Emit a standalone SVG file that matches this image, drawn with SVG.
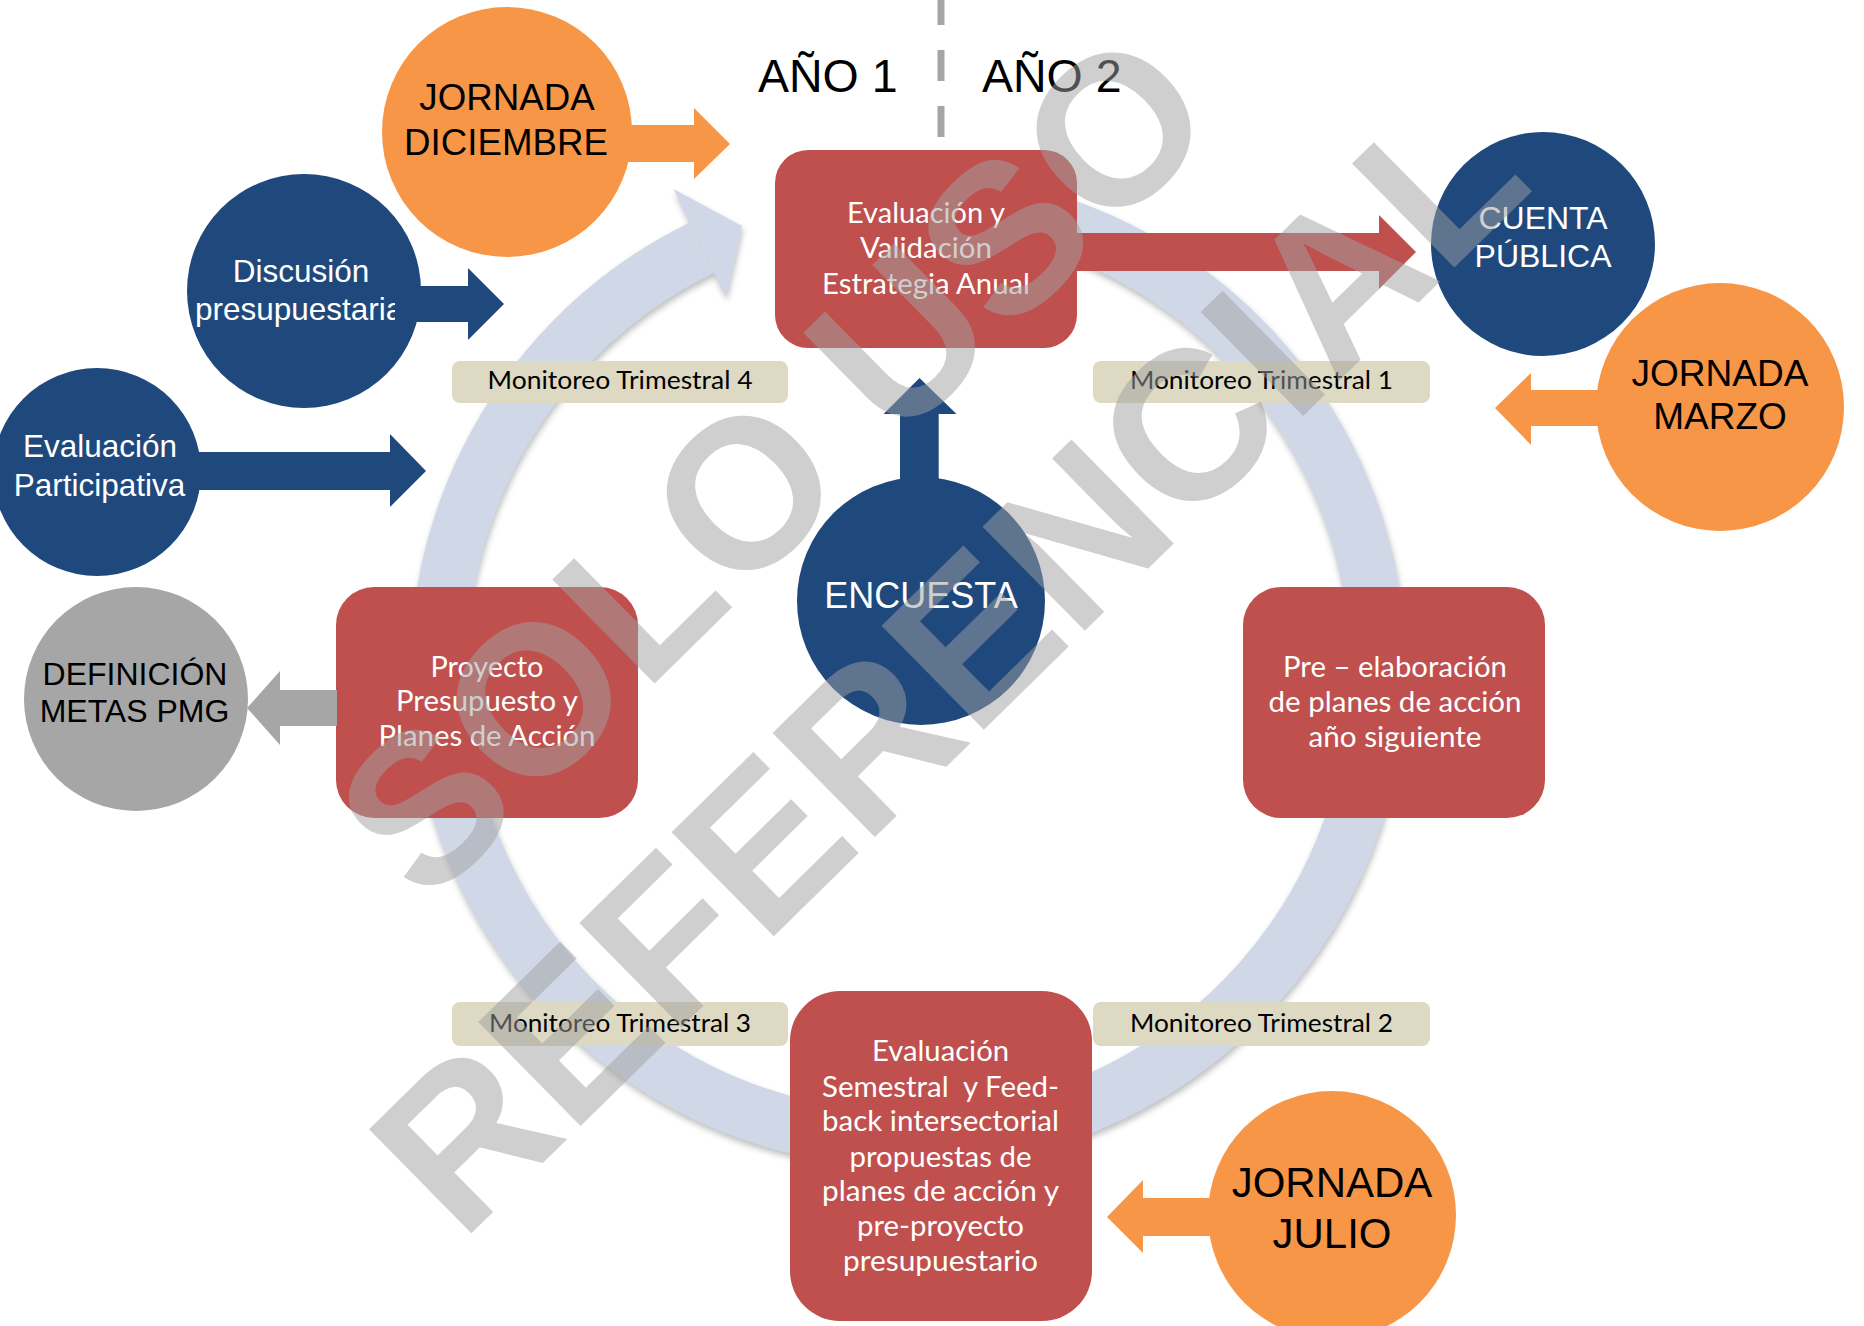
<svg xmlns="http://www.w3.org/2000/svg" width="1864" height="1326" viewBox="0 0 1864 1326">
<defs>
<style>
.ar{font-family:"Liberation Sans",Arial,sans-serif}
.cb{font-family:Lato,"Open Sans",sans-serif}
.w{fill:#ffffff}
.k{fill:#000000}
.red{fill:#c0504d}
.blue{fill:#1f497d}
.org{fill:#f79646}
.gry{fill:#a6a6a6}
.tan{fill:#ddd9c3}
.ring{fill:none;stroke:#d0d8e8;stroke-width:56}
</style>
<filter id="sh" x="-10%" y="-10%" width="120%" height="120%"><feGaussianBlur stdDeviation="3"/></filter>
</defs>
<rect x="0" y="0" width="1864" height="1326" fill="#ffffff"/>

<g id="ciclo">
  <g filter="url(#sh)" opacity="0.25" transform="translate(1,4)">
    <path d="M 826.4 207.1 A 470 470 0 1 1 702 247.6" fill="none" stroke="#000" stroke-width="56"/>
    <polygon points="673.5,189.1 742,226 726.1,297" fill="#000"/>
  </g>
  <path class="ring" d="M 826.4 207.1 A 470 470 0 1 1 702 247.6"/>
  <polygon points="673.5,189.1 742,226 726.1,297" fill="#d0d8e8"/>
</g>

<g id="anio">
  <line x1="941" y1="-6" x2="941" y2="137" stroke="#a6a6a6" stroke-width="7" stroke-dasharray="31 25"/>
  <text class="ar k" x="758" y="92" font-size="46.5">AÑO 1</text>
  <text class="ar k" x="982" y="92" font-size="46.5">AÑO 2</text>
</g>

<g id="monitoreo-4">
  <rect class="tan" x="452" y="361" width="336" height="42" rx="8"/>
  <text class="cb k" x="620" y="389" font-size="25" text-anchor="middle" textLength="265" lengthAdjust="spacingAndGlyphs">Monitoreo Trimestral 4</text>
</g>
<g id="monitoreo-1">
  <rect class="tan" x="1093" y="361" width="337" height="42" rx="8"/>
  <text class="cb k" x="1261.5" y="389" font-size="25" text-anchor="middle" textLength="263" lengthAdjust="spacingAndGlyphs">Monitoreo Trimestral 1</text>
</g>
<g id="monitoreo-3">
  <rect class="tan" x="452" y="1002" width="336" height="44" rx="8"/>
  <text class="cb k" x="620" y="1032" font-size="25" text-anchor="middle" textLength="262" lengthAdjust="spacingAndGlyphs">Monitoreo Trimestral 3</text>
</g>
<g id="monitoreo-2">
  <rect class="tan" x="1093" y="1002" width="337" height="44" rx="8"/>
  <text class="cb k" x="1261.5" y="1032" font-size="25" text-anchor="middle" textLength="263" lengthAdjust="spacingAndGlyphs">Monitoreo Trimestral 2</text>
</g>

<g id="evaluacion-anual">
  <rect class="red" x="775" y="150" width="302" height="198" rx="33"/>
  <text class="cb w" x="926" y="223" font-size="29" text-anchor="middle" textLength="158" lengthAdjust="spacingAndGlyphs">Evaluación y</text>
  <text class="cb w" x="926" y="258" font-size="29" text-anchor="middle" textLength="132" lengthAdjust="spacingAndGlyphs">Validación</text>
  <text class="cb w" x="926" y="294" font-size="29" text-anchor="middle" textLength="208" lengthAdjust="spacingAndGlyphs">Estrategia Anual</text>
</g>

<g id="proyecto-presupuesto">
  <rect class="red" x="336" y="587" width="302" height="231" rx="38"/>
  <text class="cb w" x="487" y="677" font-size="29" text-anchor="middle" textLength="113" lengthAdjust="spacingAndGlyphs">Proyecto</text>
  <text class="cb w" x="487" y="711" font-size="29" text-anchor="middle" textLength="182" lengthAdjust="spacingAndGlyphs">Presupuesto y</text>
  <text class="cb w" x="487" y="746" font-size="29" text-anchor="middle" textLength="217" lengthAdjust="spacingAndGlyphs">Planes de Acción</text>
</g>

<g id="pre-elaboracion">
  <rect class="red" x="1243" y="587" width="302" height="231" rx="38"/>
  <text class="cb w" x="1395" y="677" font-size="29" text-anchor="middle" textLength="224" lengthAdjust="spacingAndGlyphs">Pre – elaboración</text>
  <text class="cb w" x="1395" y="712" font-size="29" text-anchor="middle" textLength="253" lengthAdjust="spacingAndGlyphs">de planes de acción</text>
  <text class="cb w" x="1395" y="747" font-size="29" text-anchor="middle" textLength="173" lengthAdjust="spacingAndGlyphs">año siguiente</text>
</g>

<g id="evaluacion-semestral">
  <rect class="red" x="790" y="991" width="302" height="330" rx="50"/>
  <text class="cb w" x="940.5" y="1061" font-size="29" text-anchor="middle" textLength="137" lengthAdjust="spacingAndGlyphs">Evaluación</text>
  <text class="cb w" x="940.5" y="1097" font-size="29" text-anchor="middle" textLength="237" lengthAdjust="spacingAndGlyphs" xml:space="preserve">Semestral  y Feed-</text>
  <text class="cb w" x="940.5" y="1131" font-size="29" text-anchor="middle" textLength="237" lengthAdjust="spacingAndGlyphs">back intersectorial</text>
  <text class="cb w" x="940.5" y="1167" font-size="29" text-anchor="middle" textLength="182" lengthAdjust="spacingAndGlyphs">propuestas de</text>
  <text class="cb w" x="940.5" y="1201" font-size="29" text-anchor="middle" textLength="237" lengthAdjust="spacingAndGlyphs">planes de acción y</text>
  <text class="cb w" x="940.5" y="1236" font-size="29" text-anchor="middle" textLength="167" lengthAdjust="spacingAndGlyphs">pre-proyecto</text>
  <text class="cb w" x="940.5" y="1271" font-size="29" text-anchor="middle" textLength="195" lengthAdjust="spacingAndGlyphs">presupuestario</text>
</g>

<g id="jornada-diciembre">
  <circle class="org" cx="507" cy="132" r="125"/>
  <text class="ar k" x="507" y="110" font-size="36.7" text-anchor="middle">JORNADA</text>
  <text class="ar k" x="506" y="155" font-size="36.7" text-anchor="middle">DICIEMBRE</text>
</g>

<g id="discusion-presupuestaria">
  <circle class="blue" cx="304" cy="291" r="117"/>
  <text class="ar w" x="301" y="282" font-size="31.5" text-anchor="middle">Discusión</text>
  <text class="ar w" x="195" y="320" font-size="31.5">presupuestaria</text>
</g>

<g id="evaluacion-participativa">
  <circle class="blue" cx="97" cy="472" r="104"/>
  <text class="ar w" x="100" y="457" font-size="31.5" text-anchor="middle">Evaluación</text>
  <text class="ar w" x="99.5" y="496" font-size="31.5" text-anchor="middle">Participativa</text>
</g>

<g id="definicion-metas">
  <circle class="gry" cx="136" cy="699" r="112"/>
  <text class="ar k" x="135" y="685" font-size="32" text-anchor="middle">DEFINICIÓN</text>
  <text class="ar k" x="134.5" y="722" font-size="32" text-anchor="middle">METAS PMG</text>
</g>

<g id="cuenta-publica">
  <circle class="blue" cx="1543" cy="244" r="112"/>
  <text class="ar w" x="1543" y="229" font-size="32" text-anchor="middle">CUENTA</text>
  <text class="ar w" x="1543" y="267" font-size="32" text-anchor="middle">PÚBLICA</text>
</g>

<g id="jornada-marzo">
  <circle class="org" cx="1720" cy="407" r="124"/>
  <text class="ar k" x="1720" y="386" font-size="37" text-anchor="middle">JORNADA</text>
  <text class="ar k" x="1720" y="429" font-size="37" text-anchor="middle">MARZO</text>
</g>

<g id="encuesta">
  <circle class="blue" cx="921" cy="601" r="124"/>
  <text class="ar w" x="921" y="608" font-size="36" text-anchor="middle">ENCUESTA</text>
</g>

<g id="jornada-julio">
  <circle class="org" cx="1332" cy="1215" r="124"/>
  <text class="ar k" x="1332" y="1197" font-size="42" text-anchor="middle">JORNADA</text>
  <text class="ar k" x="1332" y="1248" font-size="42" text-anchor="middle">JULIO</text>
</g>

<g id="conectores">
  <polygon class="org" points="614,125 694,125 694,108 730,144 694,179 694,162 614,162"/>
  <polygon class="blue" points="395,286 468,286 468,268 504,304 468,340 468,322 395,322"/>
  <polygon class="blue" points="190,452 390,452 390,434 426,471 390,507 390,490 190,490"/>
  <polygon class="gry" points="337,690 280,690 280,671 247,708 280,745 280,726 337,726"/>
  <polygon class="red" points="1070,233 1379,233 1379,215 1416,252 1379,289 1379,271 1070,271"/>
  <polygon class="org" points="1610,390 1531,390 1531,373 1495,408 1531,445 1531,426 1610,426"/>
  <polygon class="org" points="1215,1198 1143,1198 1143,1180 1107,1217 1143,1253 1143,1236 1215,1236"/>
  <polygon class="blue" points="900,490 900,414 883.6,414 919.5,378 956.5,414 938.7,414 938.7,490"/>
</g>

<g id="marca-agua" fill="#a0a0a0" fill-opacity="0.5" font-family="'Liberation Sans',Arial,sans-serif" font-weight="bold" font-size="212" text-anchor="middle">
  <text transform="translate(825,516) rotate(-44.5)">SOLO USO</text>
  <text transform="translate(999,715) rotate(-44.5)">REFERENCIAL</text>
</g>
</svg>
